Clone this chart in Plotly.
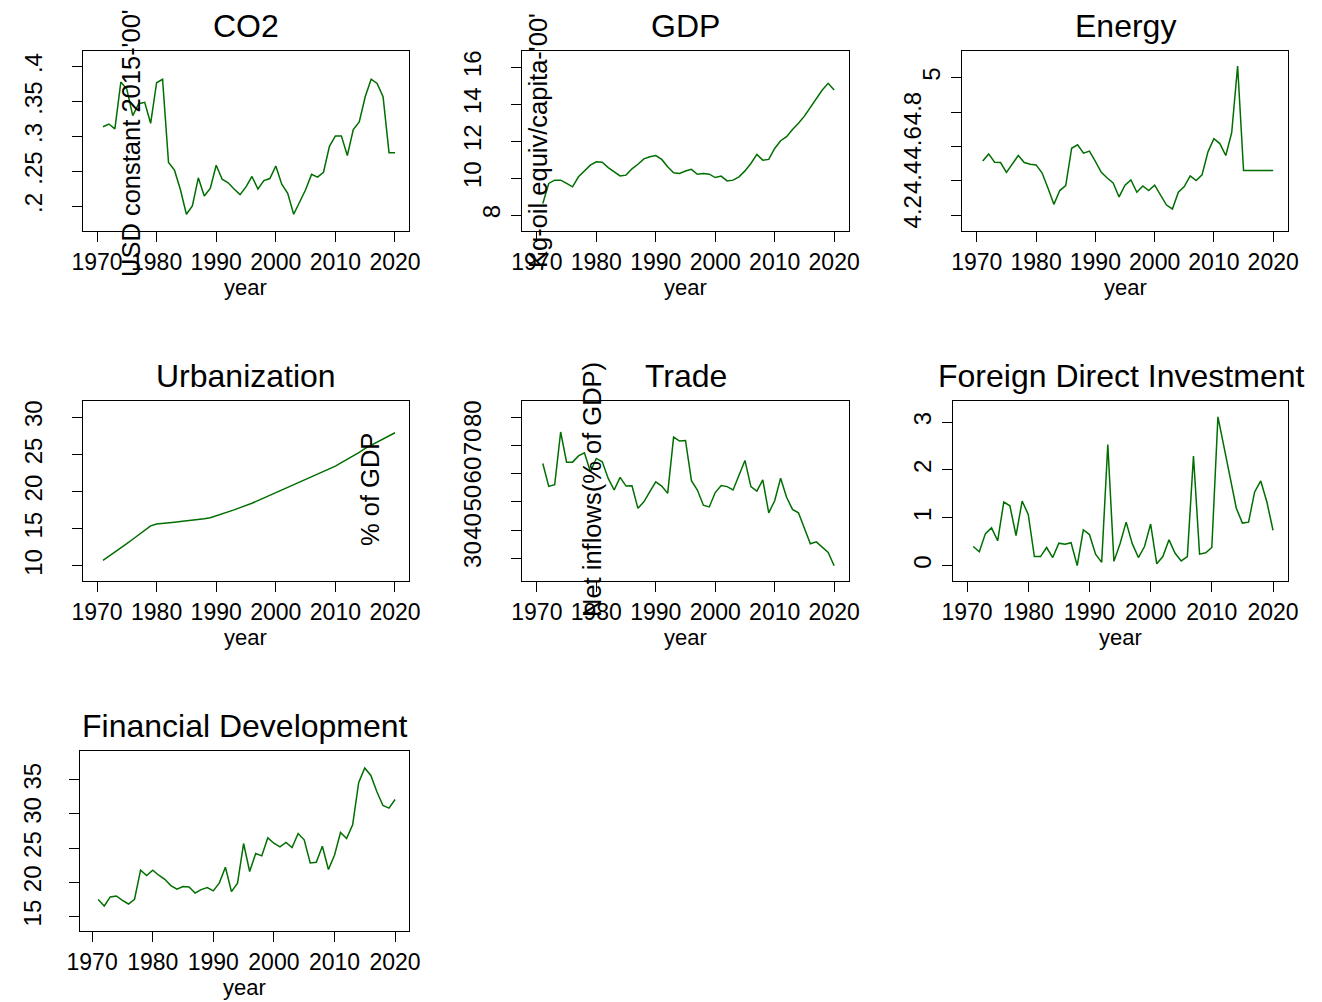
import plotly.graph_objects as go

# ---------------- data ----------------
years = list(range(1971, 2021))

co2 = [0.314, 0.318, 0.311, 0.378, 0.368, 0.330, 0.347, 0.349, 0.319, 0.377,
       0.382, 0.263, 0.252, 0.224, 0.189, 0.201, 0.241, 0.215, 0.226, 0.259,
       0.239, 0.234, 0.225, 0.217, 0.228, 0.243, 0.225, 0.237, 0.240, 0.258,
       0.232, 0.219, 0.189, 0.206, 0.224, 0.246, 0.242, 0.249, 0.286, 0.301,
       0.301, 0.273, 0.310, 0.321, 0.357, 0.382, 0.376, 0.357, 0.277, 0.277]

gdp = [8.64, 9.72, 9.90, 9.90, 9.72, 9.54, 10.08, 10.40, 10.71, 10.89,
       10.87, 10.58, 10.35, 10.13, 10.17, 10.51, 10.76, 11.05, 11.16, 11.23,
       11.02, 10.62, 10.30, 10.26, 10.39, 10.48, 10.22, 10.26, 10.22, 10.04,
       10.12, 9.86, 9.90, 10.08, 10.40, 10.80, 11.29, 10.98, 11.02, 11.61,
       12.03, 12.25, 12.64, 12.97, 13.36, 13.83, 14.23, 14.77, 15.13, 14.77]

energy = [4.516, 4.557, 4.509, 4.507, 4.450, 4.499, 4.548, 4.507, 4.497, 4.493,
          4.447, 4.359, 4.264, 4.344, 4.373, 4.590, 4.610, 4.561, 4.573, 4.513,
          4.450, 4.417, 4.388, 4.307, 4.375, 4.406, 4.334, 4.371, 4.344, 4.375,
          4.318, 4.260, 4.237, 4.334, 4.367, 4.429, 4.402, 4.435, 4.569, 4.645,
          4.617, 4.548, 4.680, 5.068, 4.460, 4.460, 4.460, 4.460, 4.460, 4.460]

urban = [10.76, 11.30, 11.85, 12.40, 13.00, 13.60, 14.20, 14.80, 15.40, 15.65,
         15.70, 15.80, 15.90, 16.00, 16.07, 16.15, 16.25, 16.35, 16.50, 16.74,
         17.00, 17.30, 17.55, 17.85, 18.13, 18.45, 18.80, 19.15, 19.50, 19.89,
         20.20, 20.55, 20.90, 21.25, 21.60, 21.95, 22.30, 22.70, 23.05, 23.44,
         23.90, 24.35, 24.80, 25.30, 25.82, 26.25, 26.70, 27.10, 27.50, 27.93]

trade = [63.6, 55.5, 56.1, 74.8, 64.1, 64.1, 66.3, 67.4, 60.7, 65.4,
         64.2, 58.3, 54.2, 58.7, 55.6, 55.7, 47.7, 50.0, 53.6, 57.1,
         55.6, 53.0, 73.0, 71.6, 71.8, 57.5, 54.2, 48.8, 48.2, 53.3,
         55.8, 55.4, 54.2, 59.5, 64.7, 55.4, 53.8, 57.8, 46.1, 50.4,
         58.4, 51.6, 47.3, 46.1, 40.5, 35.1, 35.8, 34.0, 32.0, 27.3]

fdi = [0.40, 0.29, 0.67, 0.79, 0.52, 1.33, 1.25, 0.63, 1.35, 1.07,
       0.19, 0.19, 0.38, 0.17, 0.47, 0.45, 0.48, 0.00, 0.75, 0.65,
       0.24, 0.07, 2.53, 0.09, 0.46, 0.91, 0.46, 0.17, 0.40, 0.87,
       0.04, 0.19, 0.54, 0.26, 0.10, 0.19, 2.29, 0.24, 0.27, 0.38,
       3.11, 2.50, 1.84, 1.20, 0.89, 0.91, 1.54, 1.77, 1.33, 0.74]

findev = [17.49, 16.56, 17.88, 18.02, 17.39, 16.85, 17.54, 21.78, 21.00, 21.78,
          21.05, 20.46, 19.54, 19.00, 19.39, 19.34, 18.46, 18.95, 19.24, 18.76,
          19.93, 22.22, 18.66, 19.88, 25.68, 21.59, 24.22, 23.88, 26.51, 25.73,
          25.20, 25.83, 25.10, 27.15, 26.22, 22.85, 22.95, 25.29, 21.88, 23.98,
          27.29, 26.41, 28.41, 34.61, 36.71, 35.63, 33.24, 31.24, 30.85, 32.12]

titles = ["CO2", "GDP", "Energy", "Urbanization", "Trade",
          "Foreign Direct Investment", "Financial Development"]
x_title = "year"

x_ticks = [1970, 1980, 1990, 2000, 2010, 2020]
x_ticktext = ["1970", "1980", "1990", "2000", "2010", "2020"]

co2_ticks = [0.2, 0.25, 0.3, 0.35, 0.4]
co2_ticktext = [".2", ".25", ".3", ".35", ".4"]
gdp_ticks = [8, 10, 12, 14, 16]
gdp_ticktext = ["", "10", "12", "14", "16"]
gdp_ticks_short = [8]
gdp_ticktext_short = ["8"]
energy_ticks = [4.2, 4.4, 4.6, 4.8, 5]
energy_ticktext = ["4.2", "4.4", "4.6", "4.8", ""]
energy_ticks_short = [5]
energy_ticktext_short = ["5"]
urban_ticks = [10, 15, 20, 25, 30]
urban_ticktext = ["10", "15", "20", "25", "30"]
trade_ticks = [30, 40, 50, 60, 70, 80]
trade_ticktext = ["30", "40", "50", "60", "70", "80"]
fdi_ticks = [0, 1, 2, 3]
fdi_ticktext = ["0", "1", "2", "3"]
findev_ticks = [15, 20, 25, 30, 35]
findev_ticktext = ["15", "20", "25", "30", "35"]

stray_titles = ["USD constant 2015-'00'", "Kg-oil equiv/capita-'00'",
                "Net inflows(% of GDP)", "% of GDP"]

# ---------------- layout helpers ----------------
W, H, OFF = 1322, 1002, 0
FONT = "Liberation Sans, Arial, sans-serif"
GREEN = "rgb(0,110,0)"


def PX(px):
    return (px - OFF) / W


def PY(py):
    return 1 - (py - OFF) / H


panels = [
    # (data, box x0, x1, y0, y1, xrange, yrange, ticks, ticktext, standoff)
    (co2, 83, 409, 51, 231, [1967.65, 2022.35], [0.165, 0.4224], co2_ticks, co2_ticktext, 20),
    (gdp, 522, 849, 51, 231, [1967.5, 2022.5], [7.15, 16.88], gdp_ticks, gdp_ticktext, 20),
    (energy, 962, 1288, 51, 231, [1967.5, 2022.5], [4.109, 5.155], energy_ticks, energy_ticktext, 20),
    (urban, 83, 409, 401, 581, [1967.65, 2022.35], [7.98, 32.2], urban_ticks, urban_ticktext, 20),
    (trade, 522, 849, 401, 581, [1967.5, 2022.5], [21.9, 85.8], trade_ticks, trade_ticktext, 20),
    (fdi, 953, 1288, 401, 581, [1967.7, 2022.45], [-0.32, 3.44], fdi_ticks, fdi_ticktext, 1),
    (findev, 80, 409, 751, 931, [1968.0, 2022.3], [12.9, 39.2], findev_ticks, findev_ticktext, 18),
]

fig = go.Figure()
layout = dict(
    template="none",
    width=W, height=H,
    margin=dict(l=0, r=0, t=0, b=0, autoexpand=False),
    paper_bgcolor="white", plot_bgcolor="white",
    showlegend=False,
    font=dict(family=FONT, color="black"),
)
annotations = []

for i, (vals, x0, x1, y0, y1, xr, yr, yt, ytt, standoff) in enumerate(panels, start=1):
    sfx = "" if i == 1 else str(i)
    fig.add_trace(go.Scatter(
        x=years, y=vals, mode="lines",
        line=dict(color=GREEN, width=1.5),
        xaxis="x" + sfx, yaxis="y" + sfx, hoverinfo="skip",
    ))
    layout["xaxis" + sfx] = dict(
        domain=[PX(x0), PX(x1)], anchor="y" + sfx, range=xr, automargin=False,
        tickmode="array", tickvals=x_ticks, ticktext=x_ticktext,
        ticks="outside", ticklen=10, tickwidth=1, tickcolor="black",
        showline=True, linecolor="black", linewidth=1.3, mirror=True,
        showgrid=False, zeroline=False,
        tickfont=dict(size=23, family=FONT, color="black"),
    )
    layout["yaxis" + sfx] = dict(
        domain=[PY(y1), PY(y0)], anchor="x" + sfx, range=yr, automargin=False,
        tickmode="array", tickvals=yt, ticktext=ytt, tickangle=-90,
        ticks="outside", ticklen=10, tickwidth=1, tickcolor="black",
        ticklabelstandoff=standoff,
        showline=True, linecolor="black", linewidth=1.3, mirror=True,
        showgrid=False, zeroline=False,
        tickfont=dict(size=24, family=FONT, color="black"),
    )
    # panel title
    annotations.append(dict(
        text=titles[i - 1], x=PX((x0 + x1) / 2), y=PY(y0 - 25),
        xref="paper", yref="paper", xanchor="center", yanchor="middle",
        showarrow=False, font=dict(size=32, family=FONT, color="black"),
    ))
    # x-axis title
    annotations.append(dict(
        text=x_title, x=PX((x0 + x1) / 2), y=PY(y1 + 56),
        xref="paper", yref="paper", xanchor="center", yanchor="middle",
        showarrow=False, font=dict(size=22, family=FONT, color="black"),
    ))

# extra single-character tick labels (they sit closer to the axis)
extra = [
    ("8", "y2", "x2", gdp, gdp_ticks_short, gdp_ticktext_short, [7.15, 16.88]),
    ("9", "y3", "x3", energy, energy_ticks_short, energy_ticktext_short, [4.109, 5.155]),
]
for num, base, xa, vals, tv, tt, rng in extra:
    fig.add_trace(go.Scatter(
        x=years, y=vals, mode="lines", opacity=0,
        line=dict(color=GREEN, width=0.1),
        xaxis=xa, yaxis="y" + num, hoverinfo="skip",
    ))
    layout["yaxis" + num] = dict(
        overlaying=base, anchor=xa, side="left", range=rng, automargin=False,
        tickmode="array", tickvals=tv, ticktext=tt, tickangle=-90,
        ticks="outside", ticklen=10, tickcolor="rgba(0,0,0,0)",
        ticklabelstandoff=1, showline=False, showgrid=False, zeroline=False,
        tickfont=dict(size=24, family=FONT, color="black"),
    )

# stray vertical axis titles as they appear in the original
stray_pos = [(131, 143), (538, 141), (592, 490), (370, 490)]
for txt, (sx, sy) in zip(stray_titles, stray_pos):
    annotations.append(dict(
        text=txt, x=PX(sx), y=PY(sy), xref="paper", yref="paper",
        xanchor="center", yanchor="middle", textangle=-90, showarrow=False,
        font=dict(size=25.5, family=FONT, color="black"),
    ))

layout["annotations"] = annotations
fig.update_layout(**layout)
fig.write_html(
    "out.html",
    config={"displayModeBar": False, "staticPlot": True},
    post_script="document.body.style.margin='0';document.body.style.overflow='hidden';",
)
